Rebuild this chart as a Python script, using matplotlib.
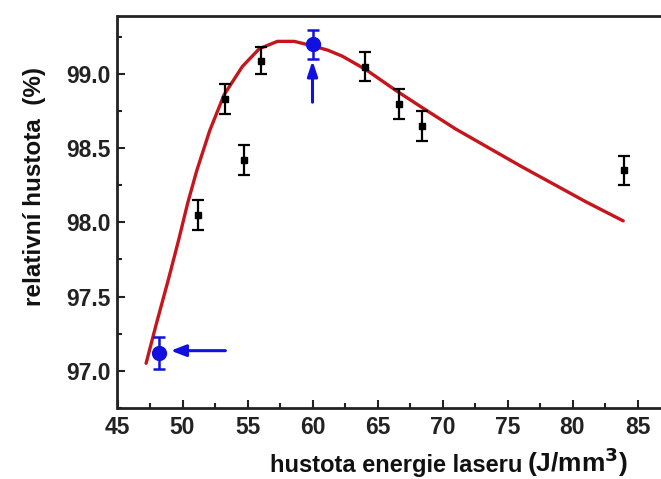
import matplotlib
matplotlib.use("Agg")
import matplotlib.pyplot as plt
from matplotlib.ticker import MultipleLocator

# ---- data ----
x_black = [51.2, 53.3, 54.7, 56.0, 64.05, 66.65, 68.4, 83.95]
y_black = [98.05, 98.83, 98.42, 99.09, 99.05, 98.80, 98.65, 98.35]
e_black = [0.10, 0.10, 0.10, 0.09, 0.10, 0.10, 0.10, 0.10]

x_blue = [48.2, 60.0]
y_blue = [97.12, 99.20]
e_blue = [0.11, 0.10]

x_fit = [47.2, 48.0, 48.9, 49.7, 50.4, 51.1, 52.1, 53.2, 54.6, 55.9, 57.3,
         58.6, 60.0, 61.2, 62.3, 64.1, 66.4, 68.5, 71.0, 73.6, 76.2, 78.5,
         81.0, 83.9]
y_fit = [97.05, 97.32, 97.61, 97.88, 98.13, 98.35, 98.62, 98.86, 99.05, 99.17,
         99.22, 99.22, 99.19, 99.16, 99.12, 99.03, 98.89, 98.77, 98.63, 98.50,
         98.37, 98.26, 98.14, 98.01]

x_ticks = [45, 50, 55, 60, 65, 70, 75, 80, 85]
y_ticks = [97.0, 97.5, 98.0, 98.5, 99.0]

plt.rcParams['font.family'] = ['Liberation Sans', 'DejaVu Sans']

fig = plt.figure(figsize=(6.61, 4.79), dpi=100)
W, H = 661, 479
left, right, bottom, top = 117.5, 661 + 40, 408, 15.7
ax = fig.add_axes([left / W, 1 - bottom / H, (right - left) / W, (bottom - top) / H])

ax.plot(x_fit, y_fit, color='#C4161C', lw=2.4, zorder=2,
        solid_capstyle='round', solid_joinstyle='round')
ax.errorbar(x_black, y_black, yerr=e_black, fmt='s', color='black', ms=5,
            ecolor='black', elinewidth=1.6, capsize=4, capthick=1.6, zorder=3)
ax.errorbar(x_blue, y_blue, yerr=e_blue, fmt='o', color='#1010E0', ms=10,
            ecolor='#1010E0', elinewidth=1.8, capsize=4, capthick=1.8, zorder=4)

ax.annotate('', xy=(49.1, 97.135), xytext=(53.3, 97.135),
            arrowprops=dict(arrowstyle='-|>,head_length=0.9,head_width=0.35',
                            color='#1010E0', lw=2.2, shrinkA=0, shrinkB=0))
ax.annotate('', xy=(60.0, 99.09), xytext=(60.0, 98.81),
            arrowprops=dict(arrowstyle='-|>,head_length=0.9,head_width=0.3',
                            color='#1010E0', lw=2.2, shrinkA=0, shrinkB=0))

ax.set_xlim(45, 45 + (right - left) / 13.0)
ax.set_ylim(97.0 - (bottom - 370.7) / 148.3, 99.0 + (74.0 - top) / 148.3)
ax.set_xticks(x_ticks)
ax.set_yticks(y_ticks)
ax.set_yticklabels([f"{v:.1f}" for v in y_ticks])
ax.xaxis.set_minor_locator(MultipleLocator(2.5))
ax.yaxis.set_minor_locator(MultipleLocator(0.25))
ax.tick_params(which='major', direction='in', length=6, width=1.5, labelsize=16.5,
               top=False, right=False, pad=6, colors='#222222')
ax.tick_params(which='minor', direction='in', length=3.5, width=1.5,
               top=False, right=False, colors='#222222')
ax.tick_params(axis='y', pad=5)
for lab in ax.get_xticklabels() + ax.get_yticklabels():
    lab.set_fontweight('bold')
for s in ax.spines.values():
    s.set_linewidth(2.0)
    s.set_color('#222222')
ax.spines['right'].set_visible(False)

fig.text(35 / W, 1 - 187 / H, 'relativní hustota  (%)', rotation=90,
         ha='center', va='center', fontsize=17.5, fontweight='bold',
         color='#111111')
fig.text(522 / W, 1 - 472 / H, 'hustota energie laseru',
         ha='right', va='baseline', fontsize=17, fontweight='bold',
         color='#111111')
fig.text(527 / W, 1 - 472 / H, '(J/mm$^{\\mathbf{3}}$)',
         ha='left', va='baseline', fontsize=19, fontweight='bold',
         color='#111111')

fig.savefig('out.png', dpi=100)
